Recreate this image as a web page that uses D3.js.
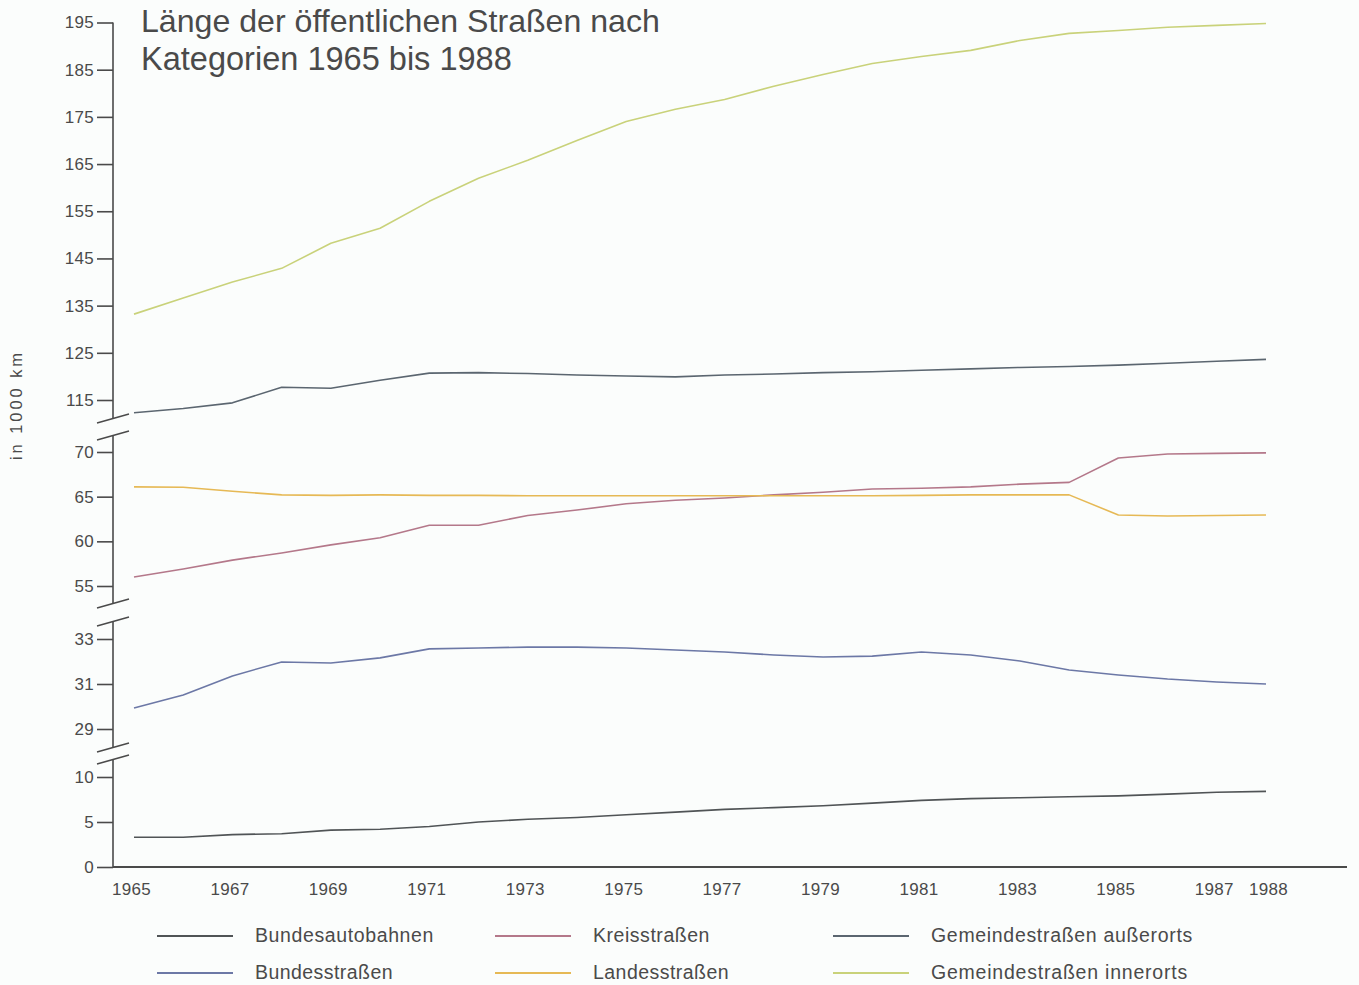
<!DOCTYPE html>
<html lang="de">
<head>
<meta charset="utf-8">
<script src="https://cdn.jsdelivr.net/npm/d3@7"></script>
<style>
  html, body { margin: 0; padding: 0; background: #fbfdfc; }
  svg { display: block; font-family: "Liberation Sans", Arial, Helvetica, sans-serif; }
</style>
</head>
<body>
<svg id="chart" width="1359" height="985"></svg>
<script>
// Road lengths in 1000 km, 1965–1988
const years = d3.range(1965, 1989);

const bundesautobahnen = [3.3, 3.3, 3.6, 3.7, 4.1, 4.2, 4.5, 5.0, 5.3, 5.5, 5.8, 6.1,
                          6.4, 6.6, 6.8, 7.1, 7.4, 7.6, 7.7, 7.8, 7.9, 8.1, 8.3, 8.4];
const bundesstrassen = [29.93, 30.51, 31.36, 31.98, 31.93, 32.16, 32.56, 32.6, 32.64, 32.64, 32.6, 32.51,
                        32.42, 32.29, 32.2, 32.24, 32.42, 32.29, 32.02, 31.62, 31.4, 31.22, 31.09, 31.0];
const kreisstrassen = [56.0, 56.9, 57.9, 58.7, 59.6, 60.4, 61.8, 61.8, 62.9, 63.5, 64.2, 64.6,
                       64.85, 65.2, 65.5, 65.85, 65.95, 66.1, 66.4, 66.6, 69.33, 69.78, 69.85, 69.9];
const landesstrassen = [66.1, 66.05, 65.6, 65.2, 65.15, 65.2, 65.15, 65.15, 65.1, 65.1, 65.1, 65.1,
                        65.1, 65.1, 65.1, 65.1, 65.15, 65.2, 65.2, 65.2, 62.95, 62.83, 62.9, 62.95];
const gemeindeAusserorts = [112.3, 113.2, 114.4, 117.7, 117.5, 119.2, 120.7, 120.8, 120.6, 120.3, 120.1, 119.9,
                            120.3, 120.5, 120.8, 121.0, 121.3, 121.6, 121.9, 122.1, 122.4, 122.8, 123.2, 123.6];
const gemeindeInnerorts = [133.2, 136.6, 140.0, 142.9, 148.2, 151.4, 157.1, 162.0, 165.8, 170.0, 174.0, 176.6,
                           178.7, 181.5, 184.0, 186.3, 187.8, 189.1, 191.2, 192.7, 193.3, 194.0, 194.4, 194.8];

// Broken y axis: four value bands, each with its own ticks
const bandDomains = [[0, 10], [29, 33], [55, 70], [115, 195]];
const bandTicks = [[0, 5, 10], [29, 31, 33], [55, 60, 65, 70],
                   [115, 125, 135, 145, 155, 165, 175, 185, 195]];
const xTickYears = [1965, 1967, 1969, 1971, 1973, 1975, 1977, 1979, 1981, 1983, 1985, 1987, 1988];

const seriesNames = ["Bundesautobahnen", "Kreisstraßen", "Gemeindestraßen außerorts",
                     "Bundesstraßen", "Landesstraßen", "Gemeindestraßen innerorts"];
const seriesValues = [bundesautobahnen, kreisstrassen, gemeindeAusserorts,
                      bundesstrassen, landesstrassen, gemeindeInnerorts];
const seriesBand = [0, 2, 3, 1, 2, 3];
const seriesColors = ["#505456", "#b4788a", "#5b6670", "#6c78a6", "#e6b955", "#c9d27a"];

// ---- layout ----
const svg = d3.select("#chart");
const axisX = 113;
const ink = "#4a4a4a";

// stretch a text element to a given width with letter spacing
function fitWidth(sel, target) {
  sel.each(function () {
    const w = this.getComputedTextLength();
    const n = this.textContent.length;
    d3.select(this).attr("letter-spacing", Math.max(0, (target - w) / n));
  });
}

// pixel extents of each band (value ranges and where the axis line runs)
const bandRanges = [[867, 777], [729, 639], [586, 452], [400, 22.5]];
const bandAxisSpan = [[867, 759.5], [747.5, 621], [603.5, 436], [419, 22.5]];

const yScales = bandDomains.map((d, i) => d3.scaleLinear().domain(d).range(bandRanges[i]));
const x = d3.scaleLinear().domain([1965, 1988]).range([134, 1266]);

// Title
const title = svg.append("g").attr("fill", ink).attr("font-size", 27);
title.append("text").attr("x", 141).attr("y", 32).text("Länge der öffentlichen Straßen nach");
title.append("text").attr("x", 141).attr("y", 70).text("Kategorien 1965 bis 1988");
title.selectAll("text").each(function () {
  const target = this.textContent.startsWith("Länge") ? 519 : 371;
  const w = this.getComputedTextLength();
  d3.select(this).attr("font-size", 27 * target / w);
});

// Y axis segments
bandDomains.forEach((d, i) => {
  const g = svg.append("g").attr("transform", `translate(${axisX},0)`);
  const ax = d3.axisLeft(yScales[i]).tickValues(bandTicks[i]).tickFormat(d3.format("d"))
    .tickSize(16).tickPadding(3);
  g.call(ax);
  g.attr("font-size", null).attr("font-family", null);
  g.select(".domain").remove();
  g.selectAll(".tick line").attr("stroke", ink).attr("stroke-width", 1.6);
  g.selectAll(".tick text").attr("fill", ink).style("font-size", "17px")
    .attr("letter-spacing", 0.3);
  g.append("line")
    .attr("x1", 0).attr("x2", 0)
    .attr("y1", bandAxisSpan[i][0]).attr("y2", bandAxisSpan[i][1])
    .attr("stroke", ink).attr("stroke-width", 1.6);
});

// Break marks (pairs of slashes) between bands
const breakMarks = [[752, 764], [608, 626], [423, 440]];
breakMarks.forEach(pair => {
  pair.forEach(yb => {
    svg.append("line")
      .attr("x1", 97).attr("y1", yb)
      .attr("x2", 129).attr("y2", yb - 9)
      .attr("stroke", ink).attr("stroke-width", 1.6);
  });
});

// X axis
const xg = svg.append("g").attr("transform", "translate(0,867)");
xg.call(d3.axisBottom(x).tickValues(xTickYears).tickFormat(d3.format("d")).tickSize(0).tickPadding(16));
xg.attr("font-size", null).attr("font-family", null);
xg.select(".domain").remove();
xg.selectAll(".tick text").attr("fill", ink).style("font-size", "17px")
  .attr("letter-spacing", 0.3).attr("dx", -3);
xg.selectAll(".tick").filter(d => d === 1988).select("text").attr("dx", 2);
xg.append("line").attr("x1", axisX).attr("x2", 1347).attr("y1", 0).attr("y2", 0)
  .attr("stroke", ink).attr("stroke-width", 1.8);

// Y axis title
svg.append("text")
  .attr("transform", "translate(22,405) rotate(-90)")
  .attr("text-anchor", "middle")
  .attr("fill", ink).attr("font-size", 16.5)
  .text("in 1000 km")
  .call(fitWidth, 110);

// Lines
seriesValues.forEach((vals, i) => {
  const y = yScales[seriesBand[i]];
  const line = d3.line().x((d, j) => x(years[j])).y(d => y(d));
  svg.append("path")
    .datum(vals)
    .attr("d", line)
    .attr("fill", "none")
    .attr("stroke", seriesColors[i])
    .attr("stroke-width", 1.6)
    .attr("stroke-linejoin", "round");
});

// Legend: three columns, two rows
const legendCols = [157, 495, 833];
const legendRows = [936, 973];
const legendWidths = [179, 117, 262, 138, 136, 257];
seriesNames.forEach((name, i) => {
  const cx = legendCols[i % 3];
  const cy = legendRows[Math.floor(i / 3)];
  svg.append("line")
    .attr("x1", cx).attr("x2", cx + 76).attr("y1", cy).attr("y2", cy)
    .attr("stroke", seriesColors[i]).attr("stroke-width", 1.8);
  svg.append("text")
    .attr("x", cx + 98).attr("y", cy + 6)
    .attr("fill", ink).attr("font-size", 19.5)
    .text(name)
    .call(fitWidth, legendWidths[i]);
});
</script>
</body>
</html>
